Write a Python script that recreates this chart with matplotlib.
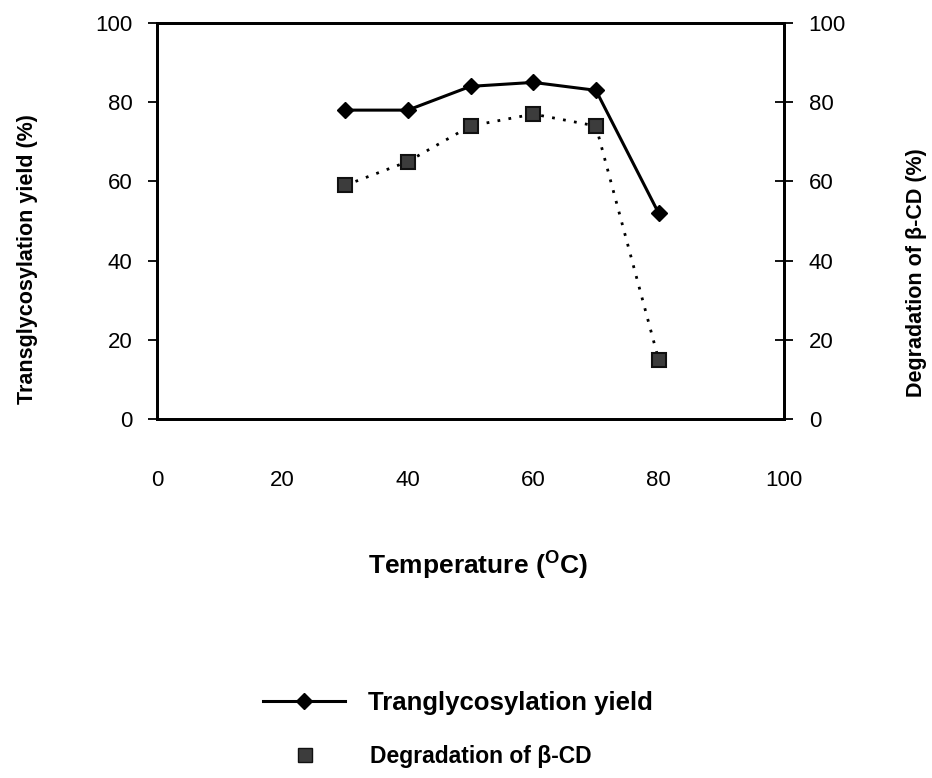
import matplotlib
matplotlib.use("Agg")
import matplotlib.pyplot as plt
from matplotlib.lines import Line2D

plt.rcParams['font.family'] = ['Liberation Sans', 'DejaVu Sans']
plt.rcParams['mathtext.fontset'] = 'custom'
plt.rcParams['mathtext.rm'] = 'Liberation Sans'
plt.rcParams['mathtext.bf'] = 'Liberation Sans:bold'

# temperatura (C) y resultados
temperatura = [30, 40, 50, 60, 70, 80]
rendimiento = [78, 78, 84, 85, 83, 52]      # transglicosilacion (%)
degradacion = [59, 65, 74, 77, 74, 15]      # degradacion beta-CD (%)
ticks = [0, 20, 40, 60, 80, 100]

W, H = 932, 778
fig = plt.figure(figsize=(W / 100, H / 100), dpi=100)
ax = fig.add_axes([157 / W, 1 - 419 / H, 627 / W, 396 / H])
ax2 = ax.twinx()

# serie 1: linea continua con rombos
ax.plot(temperatura, rendimiento, color='black', lw=2.2, marker='D', ms=8.2,
        mfc='black', mec='black', zorder=3)
# serie 2: punteada con cuadrados
ax2.plot(temperatura, degradacion, color='black', lw=2, ls=(0, (1, 3)), marker='s', ms=10.5,
         mfc='#3c3c3c', mec='#111111', mew=1.5, zorder=3)

for a in (ax, ax2):
    a.set_xlim(0, 100)
    a.set_ylim(0, 100)
    a.set_yticks(ticks)
    for s in a.spines.values():
        s.set_linewidth(2)

ax.set_xticks(ticks)
ax.tick_params(axis='x', length=0, pad=37, labelsize=16)
ax.tick_params(axis='y', direction='out', length=6.5, width=1.3, pad=11, labelsize=16)
ax2.tick_params(axis='y', direction='inout', length=13.5, width=1.3, pad=11, labelsize=16)

ax.set_ylabel('Transglycosylation yield (%)', fontsize=15.5, fontweight='bold')
ax.yaxis.set_label_coords(-0.189, 0.404)
ax2.set_ylabel('Degradation of β-CD (%)', fontsize=15.5, fontweight='bold')
ax2.yaxis.set_label_coords(1.195, 0.37)
ax.set_xlabel(r'Temperature ($^{\mathbf{O}}$C)', fontsize=19, fontweight='bold')
ax.xaxis.set_label_coords(0.512, -0.326)

# leyenda en dos filas (tamanos de letra distintos)
h1 = Line2D([], [], color='black', lw=2.2, marker='D', ms=8.2, mfc='black')
h2 = Line2D([], [], ls='none', marker='s', ms=9.5, mfc='#3c3c3c', mec='#111111')
fig.legend([h1], ['Tranglycosylation yield'], loc='center left',
           bbox_to_anchor=(263 / W, 1 - 703 / H), frameon=False, borderpad=0,
           borderaxespad=0, prop={'weight': 'bold', 'size': 18.5},
           handlelength=3.2, handletextpad=0.9)
fig.legend([h2], ['Degradation of β-CD'], loc='center left',
           bbox_to_anchor=(263 / W, 1 - 757 / H), frameon=False, borderpad=0,
           borderaxespad=0, prop={'weight': 'bold', 'size': 16.5},
           handlelength=3.65, handletextpad=1.0)

fig.savefig('out.png', dpi=100)
